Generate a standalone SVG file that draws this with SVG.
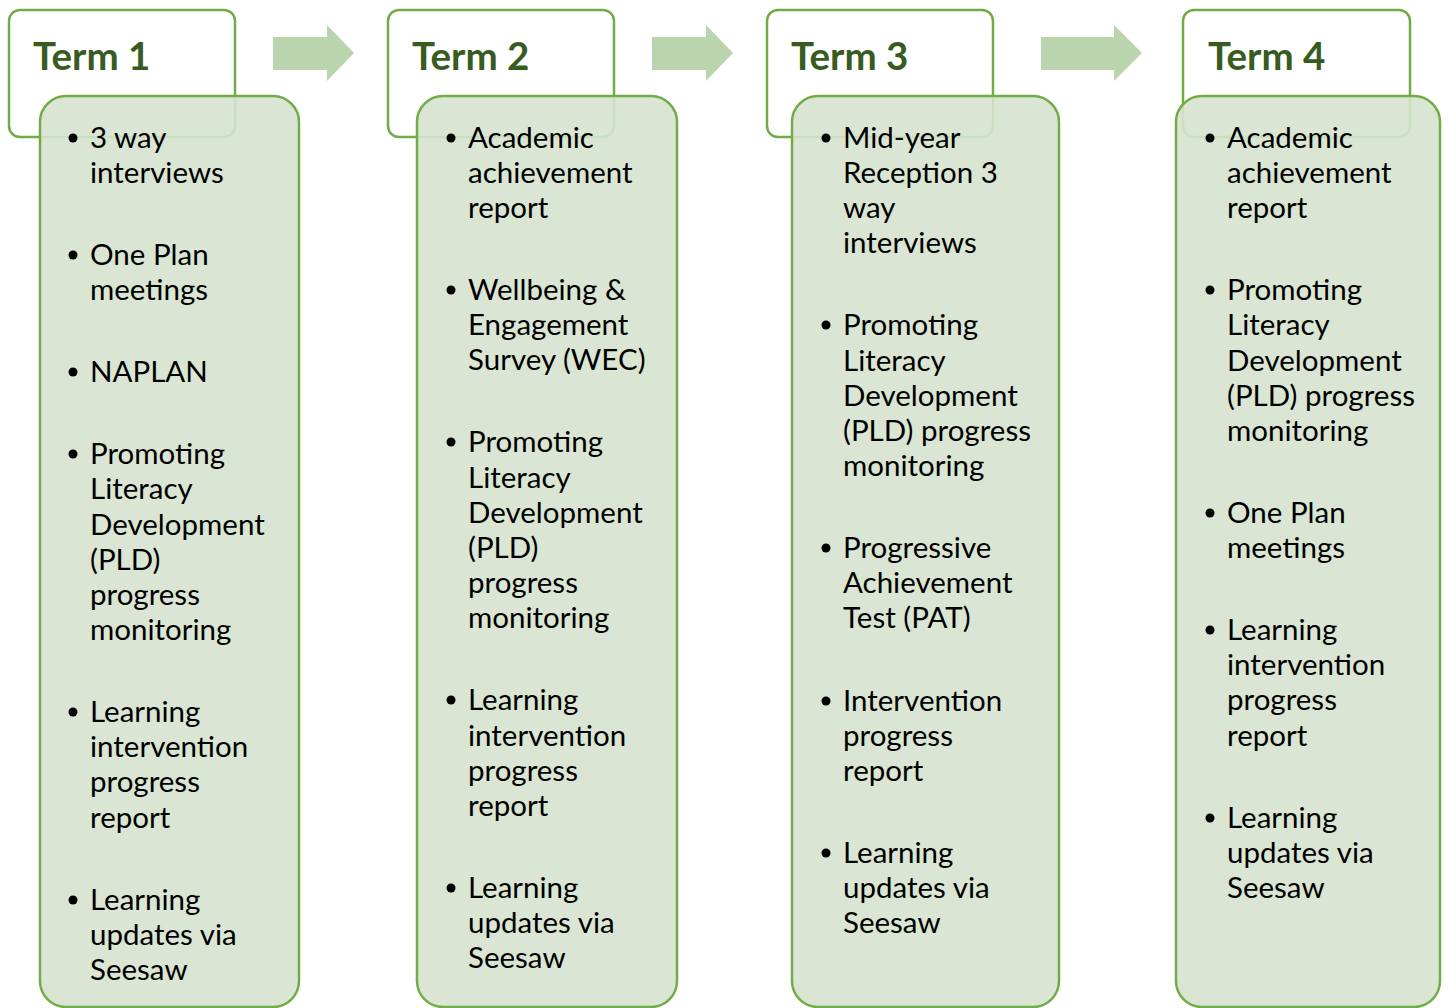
<svg xmlns="http://www.w3.org/2000/svg" width="1448" height="1008" viewBox="0 0 1448 1008">
<style>
.hdr{fill:#ffffff;stroke:#70ad47;stroke-width:2.5}
.pnl{fill:#d6e3ce;fill-opacity:0.9;stroke:#70ad47;stroke-width:2.5}
.arr{fill:#bad5ae}
.ttl{font-family:Lato,"Liberation Sans",sans-serif;font-weight:bold;font-size:38.5px;fill:#385b22}
.t{font-family:Lato,"Liberation Sans",sans-serif;font-size:29.5px;fill:#000000}
.b{fill:#000000}
</style>
<g id="connectors">
<path class="arr" d="M273,37 H327 V25 L354,53 L327,81 V70 H273 Z"/>
<path class="arr" d="M652,37 H706 V25 L733,53 L706,81 V70 H652 Z"/>
<path class="arr" d="M1041,37 H1114 V25 L1142,53 L1114,81 V70 H1041 Z"/>
</g>
<g id="term1">
<rect class="hdr" x="9" y="10" width="226" height="127" rx="11"/>
<text class="ttl" x="33" y="70">Term 1</text>
<rect class="pnl" x="40" y="96" width="259" height="911" rx="26"/>
<g class="b"><circle cx="73" cy="138" r="4.5"/><circle cx="73" cy="255" r="4.5"/><circle cx="73" cy="372" r="4.5"/><circle cx="73" cy="454" r="4.5"/><circle cx="73" cy="712" r="4.5"/><circle cx="73" cy="900" r="4.5"/></g>
<text class="t"><tspan x="90" y="148">3 way</tspan><tspan x="90" y="183">interviews</tspan><tspan x="90" y="265">One Plan</tspan><tspan x="90" y="300">meetings</tspan><tspan x="90" y="382">NAPLAN</tspan><tspan x="90" y="464">Promoting</tspan><tspan x="90" y="499">Literacy</tspan><tspan x="90" y="535">Development</tspan><tspan x="90" y="570">(PLD)</tspan><tspan x="90" y="605">progress</tspan><tspan x="90" y="640">monitoring</tspan><tspan x="90" y="722">Learning</tspan><tspan x="90" y="757">intervention</tspan><tspan x="90" y="792">progress</tspan><tspan x="90" y="828">report</tspan><tspan x="90" y="910">Learning</tspan><tspan x="90" y="945">updates via</tspan><tspan x="90" y="980">Seesaw</tspan></text>
</g>
<g id="term2">
<rect class="hdr" x="388" y="10" width="226" height="127" rx="11"/>
<text class="ttl" x="412" y="70">Term 2</text>
<rect class="pnl" x="417" y="96" width="260" height="911" rx="26"/>
<g class="b"><circle cx="451" cy="138" r="4.5"/><circle cx="451" cy="290" r="4.5"/><circle cx="451" cy="442" r="4.5"/><circle cx="451" cy="700" r="4.5"/><circle cx="451" cy="888" r="4.5"/></g>
<text class="t"><tspan x="468" y="148">Academic</tspan><tspan x="468" y="183">achievement</tspan><tspan x="468" y="218">report</tspan><tspan x="468" y="300">Wellbeing &amp;</tspan><tspan x="468" y="335">Engagement</tspan><tspan x="468" y="370">Survey (WEC)</tspan><tspan x="468" y="452">Promoting</tspan><tspan x="468" y="488">Literacy</tspan><tspan x="468" y="523">Development</tspan><tspan x="468" y="558">(PLD)</tspan><tspan x="468" y="593">progress</tspan><tspan x="468" y="628">monitoring</tspan><tspan x="468" y="710">Learning</tspan><tspan x="468" y="746">intervention</tspan><tspan x="468" y="781">progress</tspan><tspan x="468" y="816">report</tspan><tspan x="468" y="898">Learning</tspan><tspan x="468" y="933">updates via</tspan><tspan x="468" y="968">Seesaw</tspan></text>
</g>
<g id="term3">
<rect class="hdr" x="767" y="10" width="226" height="127" rx="11"/>
<text class="ttl" x="791" y="70">Term 3</text>
<rect class="pnl" x="792" y="96" width="267" height="911" rx="26"/>
<g class="b"><circle cx="826" cy="138" r="4.5"/><circle cx="826" cy="325" r="4.5"/><circle cx="826" cy="548" r="4.5"/><circle cx="826" cy="701" r="4.5"/><circle cx="826" cy="853" r="4.5"/></g>
<text class="t"><tspan x="843" y="148">Mid-year</tspan><tspan x="843" y="183">Reception 3</tspan><tspan x="843" y="218">way</tspan><tspan x="843" y="253">interviews</tspan><tspan x="843" y="335">Promoting</tspan><tspan x="843" y="371">Literacy</tspan><tspan x="843" y="406">Development</tspan><tspan x="843" y="441">(PLD) progress</tspan><tspan x="843" y="476">monitoring</tspan><tspan x="843" y="558">Progressive</tspan><tspan x="843" y="593">Achievement</tspan><tspan x="843" y="628">Test (PAT)</tspan><tspan x="843" y="711">Intervention</tspan><tspan x="843" y="746">progress</tspan><tspan x="843" y="781">report</tspan><tspan x="843" y="863">Learning</tspan><tspan x="843" y="898">updates via</tspan><tspan x="843" y="933">Seesaw</tspan></text>
</g>
<g id="term4">
<rect class="hdr" x="1183" y="10" width="227" height="127" rx="11"/>
<text class="ttl" x="1208" y="70">Term 4</text>
<rect class="pnl" x="1176" y="96" width="264" height="911" rx="26"/>
<g class="b"><circle cx="1210" cy="138" r="4.5"/><circle cx="1210" cy="290" r="4.5"/><circle cx="1210" cy="513" r="4.5"/><circle cx="1210" cy="630" r="4.5"/><circle cx="1210" cy="818" r="4.5"/></g>
<text class="t"><tspan x="1227" y="148">Academic</tspan><tspan x="1227" y="183">achievement</tspan><tspan x="1227" y="218">report</tspan><tspan x="1227" y="300">Promoting</tspan><tspan x="1227" y="335">Literacy</tspan><tspan x="1227" y="371">Development</tspan><tspan x="1227" y="406">(PLD) progress</tspan><tspan x="1227" y="441">monitoring</tspan><tspan x="1227" y="523">One Plan</tspan><tspan x="1227" y="558">meetings</tspan><tspan x="1227" y="640">Learning</tspan><tspan x="1227" y="675">intervention</tspan><tspan x="1227" y="710">progress</tspan><tspan x="1227" y="746">report</tspan><tspan x="1227" y="828">Learning</tspan><tspan x="1227" y="863">updates via</tspan><tspan x="1227" y="898">Seesaw</tspan></text>
</g>
</svg>
